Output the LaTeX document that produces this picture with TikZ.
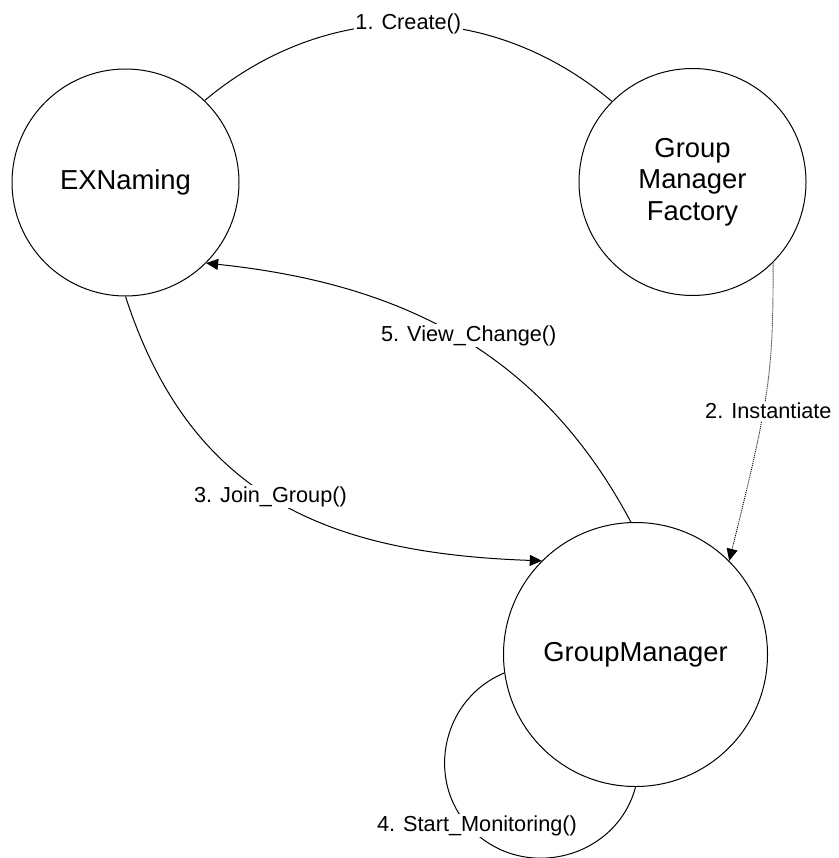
\documentclass[tikz,border=0pt]{standalone}
\usepackage{fontspec}
\setmainfont{Liberation Sans}
\usetikzlibrary{arrows.meta}
\begin{document}
\begin{tikzpicture}[x=1pt,y=1pt,
  state/.style={draw, circle, line width=1pt, inner sep=0pt, align=center,
    font=\fontsize{27.4pt}{31.5pt}\selectfont},
  msg/.style={line width=1pt},
  weak/.style={line width=0.9pt, dash pattern=on 1pt off 1pt},
  lbl/.style={fill=white, inner sep=1.5pt, font=\fontsize{21.7pt}{26pt}\selectfont},
  tip/.style={-{Triangle[length=12pt,width=11pt]}},
  ]
\useasboundingbox (0,0) rectangle (838,-858);

% objects
\node[state, minimum size=227pt] (ex)  at (125.5,-182.5) {EXNaming};
\node[state, minimum size=227pt] (gmf) at (692.5,-182)   {Group\\Manager\\Factory};
\node[state, minimum size=264pt] (gm)  at (635.5,-654.5) {GroupManager};

% messages
\draw[msg] (ex.46) to[out=40, in=140]
  node[lbl, pos=0.5] {1. Create()} (gmf.135);

\draw[weak, tip] (gmf.315) to[out=-90, in=76, out distance=110pt, in distance=170pt]
  node[lbl, pos=0.58, xshift=5pt] {2. Instantiate} (gm.45);

\draw[msg, tip] (ex.270) to[out=-72, in=178, looseness=1.1]
  node[lbl, pos=0.48] {3. Join\_Group()} (gm.135);

\coordinate (lp) at (477,-834.5);
\draw[msg] (gm.188) to[out=202.6, in=139, distance=71pt] (lp)
  to[out=319, in=255.3, distance=71pt]
  node[lbl, pos=0, yshift=9pt] {4. Start\_Monitoring()} (gm.270);

\draw[msg, tip] (gm.92) to[out=118, in=-6]
  node[lbl, pos=0.5, xshift=12pt] {5. View\_Change()} (ex.315);
\end{tikzpicture}
\end{document}
